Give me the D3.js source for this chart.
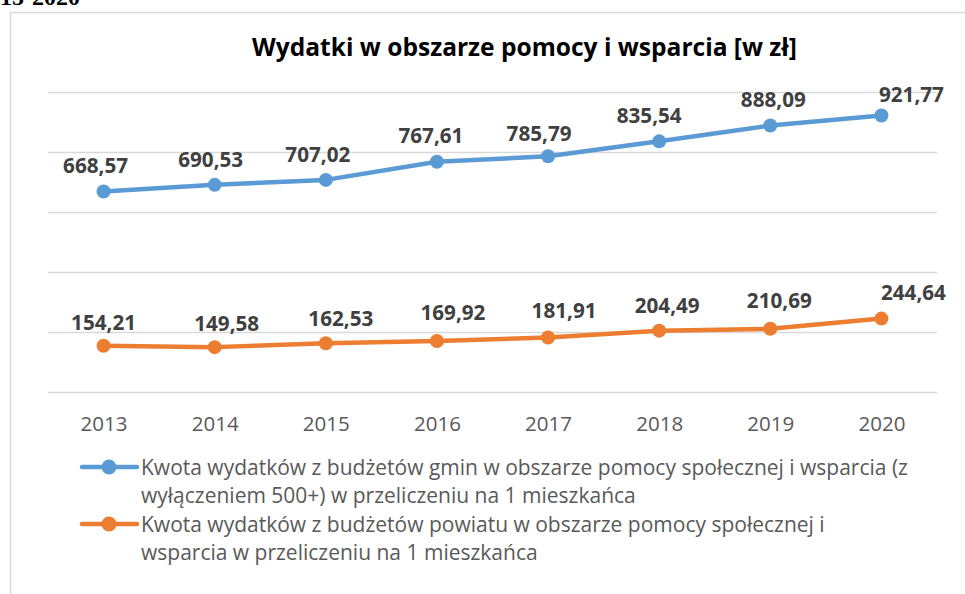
<!DOCTYPE html>
<html>
<head>
<meta charset="utf-8">
<script src="https://cdn.jsdelivr.net/npm/d3@7"></script>
<style>
  html, body { margin: 0; padding: 0; background: #fff; }
  svg { display: block; }
</style>
</head>
<body>
<svg id="chart" width="965" height="594"></svg>
<script>
// Expenditure per inhabitant, 2013–2020
const years = ["2013", "2014", "2015", "2016", "2017", "2018", "2019", "2020"];
const gminy = [668.57, 690.53, 707.02, 767.61, 785.79, 835.54, 888.09, 921.77];
const powiat = [154.21, 149.58, 162.53, 169.92, 181.91, 204.49, 210.69, 244.64];
const yTicks = [0, 200, 400, 600, 800, 1000];
const title = "Wydatki w obszarze pomocy i wsparcia [w zł]";
const headerText = "2015-2020";
const legendGminy = [
  "Kwota wydatków z budżetów gmin w obszarze pomocy społecznej i wsparcia (z",
  "wyłączeniem 500+) w przeliczeniu na 1 mieszkańca"
];
const legendPowiat = [
  "Kwota wydatków z budżetów powiatu w obszarze pomocy społecznej i",
  "wsparcia w przeliczeniu na 1 mieszkańca"
];

// Label nudges (dx, dy from the point) so values sit clear of the lines
const nudgeGminy = [[-8, -18], [-4, -18], [-8, -18], [-6, -19], [-9, -15], [-10, -18], [3, -19], [30, -13]];
const nudgePowiat = [[0, -16], [12, -16], [15, -17], [16, -21], [16, -19], [8, -18], [9, -21], [32, -19]];

const BLUE = "#5B9BD5";
const ORANGE = "#ED7D31";
const GRID = "#d9d9d9";
const FONT = "'Open Sans', 'DejaVu Sans', sans-serif";

const pl = d3.formatLocale({ decimal: ",", thousands: " ", grouping: [3], currency: ["", " zł"] });
const fmt = pl.format(".2f");

const svg = d3.select("#chart");

// font size that makes a text element span the wanted width
function fitWidth(sel, width) {
  const node = sel.node();
  const size = parseFloat(sel.attr("font-size"));
  const w = node.getComputedTextLength();
  return size * width / w;
}

function draw() {
  // header line of the surrounding document, running off the top edge
  svg.append("text")
    .attr("x", -24).attr("y", 5)
    .attr("text-anchor", "start")
    .attr("font-family", "'Liberation Serif', 'Times New Roman', serif")
    .attr("font-weight", "bold")
    .attr("font-size", 24)
    .attr("fill", "#000")
    .text(headerText);

  // chart frame
  svg.append("rect")
    .attr("x", 10.5).attr("y", 12.5)
    .attr("width", 1000).attr("height", 700)
    .attr("fill", "none")
    .attr("stroke", GRID)
    .attr("stroke-width", 1.5);

  const x = d3.scalePoint().domain(years).range([48, 937]).padding(0.5);
  const y = d3.scaleLinear().domain([0, 1000]).range([392, 92]);

  // title
  const t = svg.append("text")
    .attr("x", 524.5).attr("y", 56)
    .attr("text-anchor", "middle")
    .attr("font-family", FONT)
    .attr("font-weight", "bold")
    .attr("font-size", 24)
    .attr("fill", "#000")
    .text(title);
  t.attr("font-size", fitWidth(t, 545));

  // horizontal gridlines
  svg.append("g")
    .selectAll("line")
    .data(yTicks)
    .join("line")
    .attr("x1", 48).attr("x2", 937)
    .attr("y1", d => Math.round(y(d)) + 0.5)
    .attr("y2", d => Math.round(y(d)) + 0.5)
    .attr("stroke", GRID)
    .attr("stroke-width", 1.5);

  // category axis (labels only)
  const xAxis = svg.append("g")
    .attr("transform", "translate(0,392)")
    .call(d3.axisBottom(x).tickSize(0).tickPadding(0));
  xAxis.select(".domain").remove();
  const probe = xAxis.select(".tick text")
    .attr("font-size", 20)
    .attr("font-family", FONT);
  const axisSize = fitWidth(probe, 47);
  xAxis.selectAll(".tick text")
    .attr("font-family", FONT)
    .attr("font-size", axisSize)
    .attr("fill", "#595959")
    .attr("dy", null)
    .attr("y", 39);

  const line = d3.line().x((d, i) => x(years[i])).y(d => y(d));

  // value-label size, measured once
  const lp = svg.append("text")
    .attr("font-family", FONT).attr("font-weight", "bold").attr("font-size", 20)
    .text(fmt(gminy[0]));
  const labelSize = fitWidth(lp, 65);
  lp.remove();

  function series(values, color, nudges) {
    const g = svg.append("g");
    g.append("path")
      .datum(values)
      .attr("d", line)
      .attr("fill", "none")
      .attr("stroke", color)
      .attr("stroke-width", 4.5)
      .attr("stroke-linejoin", "round")
      .attr("stroke-linecap", "round");
    g.selectAll("circle")
      .data(values)
      .join("circle")
      .attr("cx", (d, i) => x(years[i]))
      .attr("cy", d => y(d))
      .attr("r", 7)
      .attr("fill", color);
    g.selectAll("text")
      .data(values)
      .join("text")
      .attr("x", (d, i) => x(years[i]) + nudges[i][0])
      .attr("y", (d, i) => y(d) + nudges[i][1])
      .attr("text-anchor", "middle")
      .attr("font-family", FONT)
      .attr("font-weight", "bold")
      .attr("font-size", labelSize)
      .attr("fill", "#404040")
      .text(d => fmt(d));
  }

  series(gminy, BLUE, nudgeGminy);
  series(powiat, ORANGE, nudgePowiat);

  // legend
  const lgProbe = svg.append("text")
    .attr("font-family", FONT).attr("font-size", 20)
    .text(legendGminy[0]);
  const legendSize = fitWidth(lgProbe, 767);
  lgProbe.remove();

  const legendItems = [
    { color: BLUE, lines: legendGminy, y: 467 },
    { color: ORANGE, lines: legendPowiat, y: 524 }
  ];
  const lg = svg.append("g");
  legendItems.forEach(item => {
    lg.append("line")
      .attr("x1", 82).attr("x2", 137)
      .attr("y1", item.y).attr("y2", item.y)
      .attr("stroke", item.color)
      .attr("stroke-width", 4.5)
      .attr("stroke-linecap", "round");
    lg.append("circle")
      .attr("cx", 109).attr("cy", item.y).attr("r", 7.5)
      .attr("fill", item.color);
    lg.append("text")
      .attr("x", 141)
      .attr("y", item.y + 7.5)
      .attr("font-family", FONT)
      .attr("font-size", legendSize)
      .attr("fill", "#595959")
      .selectAll("tspan")
      .data(item.lines)
      .join("tspan")
      .attr("x", 141)
      .attr("dy", (d, i) => i === 0 ? 0 : 28.5)
      .text(d => d);
  });
}

draw();
</script>
</body>
</html>
